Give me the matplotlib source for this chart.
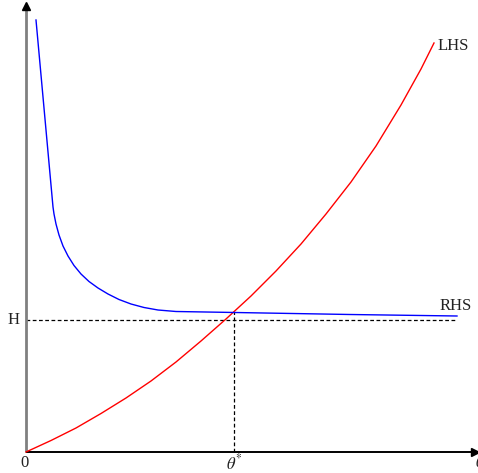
import matplotlib
matplotlib.use("Agg")
import matplotlib.pyplot as plt

plt.rcParams['mathtext.fontset'] = 'stix'
plt.rcParams['font.family'] = ['Liberation Serif', 'DejaVu Serif']

# LHS (red) curve
lhs_x = [0, 25, 50, 75, 100, 125, 150, 175, 200, 225, 250, 275, 300, 325, 350, 375, 395, 408]
lhs_y = [0, 11.5, 24, 38.5, 54, 71, 90, 111, 133, 156, 181, 208, 238, 270, 306, 347, 383, 409]

# RHS (blue) curve
rhs_x = [10, 27, 28, 30, 33, 37, 42, 48, 55, 63, 72, 82, 93, 105, 118, 132, 150, 209, 324, 431]
rhs_y = [432, 245, 238, 228, 217, 206, 196, 186.5, 178, 170.5, 164, 158, 152.5, 148, 144.5, 142, 140.5, 139.5, 137.5, 136]

theta_star = 208
H = 132
h_end = 430

fig = plt.figure(figsize=(4.78, 4.73), dpi=100)
ax = fig.add_axes([0, 0, 1, 1])
ax.set_xlim(-26, 452)
ax.set_ylim(-21, 452)
ax.axis('off')

# axes
ax.plot([0, 0], [0, 445], color='#808080', lw=2, zorder=3, solid_capstyle='butt')
ax.plot([0], [446], marker='^', color='black', markersize=6, zorder=4, clip_on=False)
ax.plot([0, 446], [0, 0], color='black', lw=1.4, zorder=3, solid_capstyle='butt')
ax.plot([449], [0], marker='>', color='black', markersize=6, zorder=4, clip_on=False)

# dashed guides
ax.plot([0, h_end], [H, H], color='black', lw=0.9, ls=(0, (3, 2)), zorder=2)
ax.plot([theta_star, theta_star], [0, 140], color='black', lw=0.9, ls=(0, (3, 2)), zorder=2)

# curves
ax.plot(lhs_x, lhs_y, color='red', lw=1.0, zorder=5)
ax.plot(rhs_x, rhs_y, color='blue', lw=1.0, zorder=5)

fs = 12
ax.text(412, 406, 'LHS', fontsize=fs, ha='left', va='center', color='#222222')
ax.text(414, 146, 'RHS', fontsize=fs, ha='left', va='center', color='#222222')
ax.text(-12, H, 'H', fontsize=fs, ha='center', va='center', color='#222222')
ax.text(-1, -11, '0', fontsize=fs, ha='center', va='center', color='#222222')
ax.text(theta_star, -11, r'$\theta^{*}$', fontsize=fs, ha='center', va='center', color='#222222')
ax.text(449, -11, r'$\theta$', fontsize=fs, ha='left', va='center', color='#222222', clip_on=False)

fig.savefig('out.png', dpi=100)
